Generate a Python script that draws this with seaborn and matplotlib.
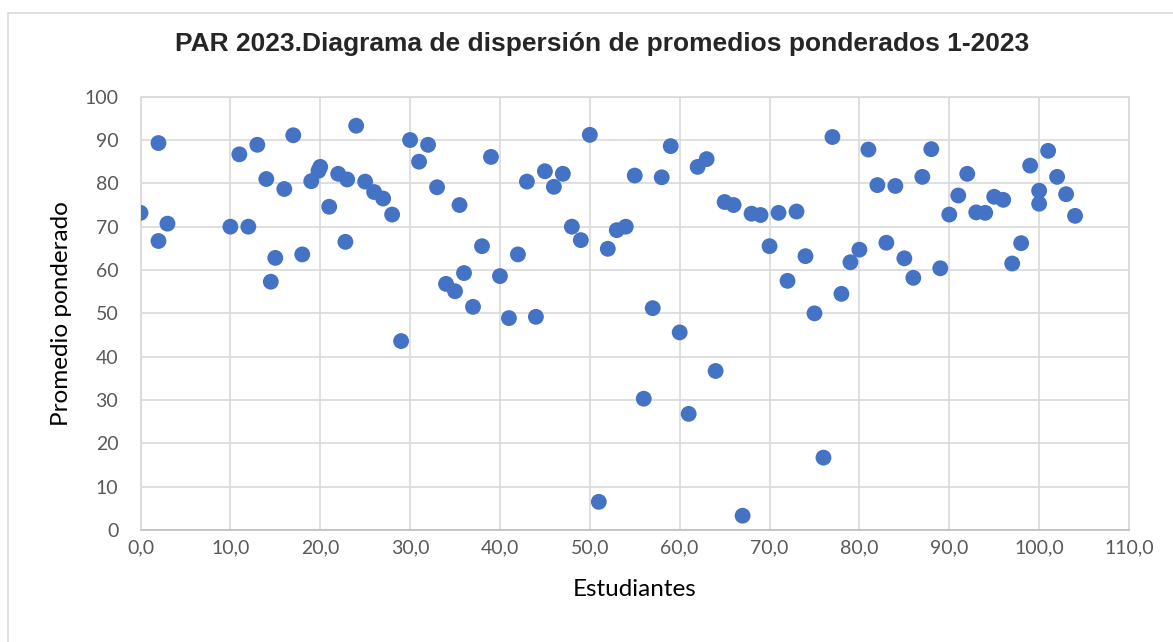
import matplotlib
matplotlib.use("Agg")
import matplotlib.pyplot as plt
import seaborn as sns
import pandas as pd
from matplotlib.patches import Rectangle
from matplotlib.ticker import MultipleLocator, FuncFormatter

# Student index and weighted average
estudiantes = [0, 2, 2, 3, 10, 11, 12, 13, 14, 14.5, 15, 16, 17, 18, 19, 19.8, 20, 21, 22, 22.8,
               23, 24, 25, 26, 27, 28, 29, 30, 31, 32, 33, 34, 35, 35.5, 36, 37, 38, 39, 40, 41,
               42, 43, 44, 45, 46, 47, 48, 49, 50, 51, 52, 53, 54, 55, 56, 57, 58, 59, 60, 61,
               62, 63, 64, 65, 66, 67, 68, 69, 70, 71, 72, 73, 74, 75, 76, 77, 78, 79, 80, 81,
               82, 83, 84, 85, 86, 87, 88, 89, 90, 91, 92, 93, 94, 95, 96, 97, 98, 99, 100, 100,
               101, 102, 103, 104]
promedios = [73.2, 89.3, 66.7, 70.7, 70.0, 86.7, 70.0, 88.9, 81.0, 57.3, 62.8, 78.7, 91.1, 63.6,
             80.5, 82.9, 83.8, 74.6, 82.2, 66.5, 80.9, 93.3, 80.4, 78.0, 76.5, 72.8, 43.6, 90.0,
             85.0, 88.9, 79.1, 56.8, 55.1, 75.0, 59.3, 51.5, 65.5, 86.1, 58.6, 48.9, 63.6, 80.4,
             49.2, 82.8, 79.2, 82.2, 70.0, 66.9, 91.2, 6.5, 64.9, 69.2, 70.0, 81.8, 30.3, 51.2,
             81.4, 88.6, 45.6, 26.8, 83.8, 85.6, 36.7, 75.7, 75.0, 3.3, 73.0, 72.7, 65.5, 73.2,
             57.5, 73.5, 63.2, 50.0, 16.7, 90.7, 54.5, 61.8, 64.7, 87.8, 79.6, 66.3, 79.4, 62.7,
             58.2, 81.5, 87.9, 60.4, 72.8, 77.2, 82.2, 73.3, 73.2, 76.9, 76.2, 61.5, 66.2, 84.1,
             78.3, 75.3, 87.5, 81.5, 77.5, 72.5]

TITLE = "PAR 2023.Diagrama de dispersión de promedios ponderados 1-2023"
GRID = "#d9d9d9"
TEXT = "#595959"

df = pd.DataFrame({"x": estudiantes, "y": promedios})

sns.set_theme(style="white")
plt.rcParams["font.family"] = ["Lato", "DejaVu Sans"]

fig = plt.figure(figsize=(11.73, 6.42), dpi=100)
# chart-area border (only left and top edges fall inside the image)
fig.patches.append(Rectangle((8 / 1173, -0.1), 1.2, 1 - 13 / 642 + 0.1, transform=fig.transFigure,
                             fill=False, edgecolor=GRID, linewidth=1.2))
ax = fig.add_axes([140.5 / 1173, 1 - 530 / 642, (1129 - 140.5) / 1173, (530 - 96.7) / 642])

sns.scatterplot(data=df, x="x", y="y", ax=ax, color="#4472C4", s=130,
                edgecolor="none", zorder=3)

ax.set_xlim(0, 110)
ax.set_ylim(0, 100)
ax.xaxis.set_major_locator(MultipleLocator(10))
ax.yaxis.set_major_locator(MultipleLocator(10))
ax.xaxis.set_major_formatter(FuncFormatter(lambda v, p: f"{v:.1f}".replace(".", ",")))
ax.grid(True, color=GRID, linewidth=1.2, zorder=0)
ax.set_axisbelow(True)
for side in ["left", "top", "right"]:
    ax.spines[side].set_color(GRID)
    ax.spines[side].set_linewidth(1.2)
ax.spines["bottom"].set_color("#bfbfbf")
ax.spines["bottom"].set_linewidth(1.2)

ax.tick_params(axis="both", length=0, labelsize=14, labelcolor=TEXT)
ax.tick_params(axis="x", pad=7)
ax.tick_params(axis="y", pad=16)

ax.set_xlabel("Estudiantes", fontsize=17.5, color="black", labelpad=16)
ax.set_ylabel("Promedio ponderado", fontsize=17.5, color="black", labelpad=9)

fig.text(602 / 1173, 1 - 44 / 642, TITLE, ha="center", va="center",
         fontsize=19, fontweight="bold", family=["Liberation Sans", "DejaVu Sans"])

fig.savefig("out.png", dpi=100)
